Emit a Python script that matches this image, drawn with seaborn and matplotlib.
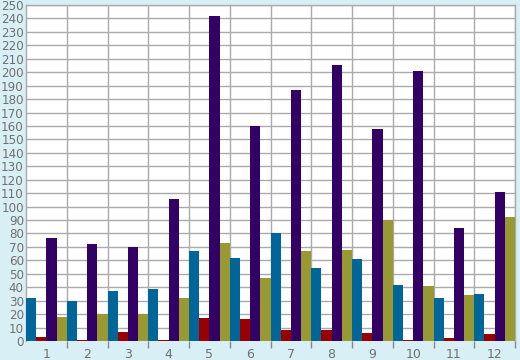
import matplotlib
matplotlib.use("Agg")
import matplotlib.pyplot as plt
import seaborn as sns
import pandas as pd
import numpy as np

categories = ["1", "2", "3", "4", "5", "6", "7", "8", "9", "10", "11", "12"]
series_names = ["A", "B", "C", "D"]
blue_vals = [32, 30, 37, 39, 67, 62, 80, 54, 61, 42, 32, 35]
red_vals = [3, 1, 7, 1, 17, 16, 8, 8, 6, 1, 2, 5]
purple_vals = [77, 72, 70, 106, 242, 160, 187, 205, 158, 201, 84, 111]
olive_vals = [18, 20, 20, 32, 73, 47, 67, 68, 90, 41, 34, 92]
y_ticks = list(range(0, 251, 10))

colors = ["#006699", "#990000", "#330066", "#999933"]
bg = "#d9eff6"
grid_c = "#aaaaaa"
text_c = "#707070"

rows = []
for name, vals in zip(series_names, [blue_vals, red_vals, purple_vals, olive_vals]):
    for c, v in zip(categories, vals):
        rows.append({"cat": c, "series": name, "value": v})
df = pd.DataFrame(rows)

sns.set_style("white")
plt.rcParams["font.family"] = ["DejaVu Sans"]

fig = plt.figure(figsize=(5.2, 3.6), dpi=100, facecolor=bg)
ax = fig.add_axes([26 / 520, 19 / 360, 489 / 520, 336 / 360])
ax.set_facecolor("white")

sns.barplot(data=df, x="cat", y="value", hue="series", order=categories,
            hue_order=series_names, palette=colors, width=1.0, gap=0,
            linewidth=0, saturation=1, legend=False, ax=ax, zorder=3)

ax.set_xlim(-0.5, len(categories) - 0.5)
ax.set_ylim(0, 250)
ax.set_yticks(y_ticks)
ax.set_yticklabels([str(t) for t in y_ticks], color=text_c, fontsize=8.6)
ax.tick_params(axis="y", length=0, pad=1.5)

ax.set_xticks(range(len(categories)))
ax.set_xticklabels(categories, color=text_c, fontsize=9)
ax.set_xticks(np.arange(0.5, len(categories), 1.0), minor=True)
ax.tick_params(axis="x", which="major", bottom=True, length=0, pad=5)
ax.tick_params(axis="x", which="minor", bottom=True, length=5, width=1,
               color="#888888", direction="out")

ax.yaxis.grid(True, color=grid_c, linewidth=1, zorder=0)
ax.xaxis.grid(True, which="minor", color=grid_c, linewidth=1, zorder=0)
ax.xaxis.grid(False, which="major")
ax.set_axisbelow(True)

for side in ["left", "top", "right"]:
    ax.spines[side].set_visible(True)
    ax.spines[side].set_color(grid_c)
    ax.spines[side].set_linewidth(1)
ax.spines["bottom"].set_visible(False)

ax.set_xlabel("")
ax.set_ylabel("")

fig.savefig("out.png", dpi=100, facecolor=bg)
